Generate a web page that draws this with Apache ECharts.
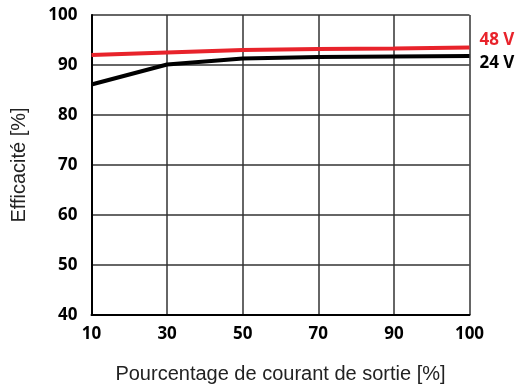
<!DOCTYPE html>
<html>
<head>
<meta charset="utf-8">
<script src="https://cdn.jsdelivr.net/npm/echarts@6/dist/echarts.min.js"></script>
<style>html,body{margin:0;padding:0;background:#fff}#c{width:521px;height:390px}</style>
</head>
<body>
<div id="c"></div>
<script>
// Output current share (%) along the horizontal axis
const loadPercent = ['10', '30', '50', '70', '90', '100'];
// Efficiency (%) for each supply voltage
const eff48V = [92.0, 92.5, 93.0, 93.2, 93.3, 93.5];
const eff24V = [86.1, 90.1, 91.3, 91.6, 91.7, 91.8];

const tickFont = { fontFamily: 'Open Sans', fontWeight: 'bold', fontSize: 17, color: '#000' };
const titleFont = { fontFamily: 'Liberation Sans', fontSize: 20, color: '#222' };

const chart = echarts.init(document.getElementById('c'));
chart.setOption({
  animation: false,
  grid: { left: 91.5, top: 15, right: 51.5, bottom: 75 },
  xAxis: {
    type: 'category',
    data: loadPercent,
    boundaryGap: false,
    name: 'Pourcentage de courant de sortie [%]',
    nameLocation: 'middle',
    nameGap: 49,
    nameTextStyle: titleFont,
    axisLine: { lineStyle: { color: '#000', width: 2 } },
    axisTick: { show: false },
    axisLabel: Object.assign({ margin: 11 }, tickFont),
    splitLine: { show: true, lineStyle: { color: '#333', width: 1.5 } }
  },
  yAxis: {
    type: 'value',
    min: 40, max: 100, interval: 10,
    name: 'Efficacité [%]',
    nameLocation: 'middle',
    nameGap: 62,
    nameTextStyle: titleFont,
    axisLine: { show: true, lineStyle: { color: '#000', width: 2 } },
    axisTick: { show: false },
    axisLabel: Object.assign({ margin: 14 }, tickFont),
    splitLine: { show: true, lineStyle: { color: '#333', width: 1.5 } }
  },
  series: [
    {
      name: '48 V', type: 'line', data: eff48V, symbol: 'none',
      lineStyle: { color: '#e8232b', width: 4 },
      endLabel: { show: true, formatter: '48 V', fontFamily: 'Open Sans', fontWeight: 'bold', fontSize: 17, color: '#e8232b', offset: [2, -7] },
      z: 3
    },
    {
      name: '24 V', type: 'line', data: eff24V, symbol: 'none',
      lineStyle: { color: '#000', width: 4 },
      endLabel: { show: true, formatter: '24 V', fontFamily: 'Open Sans', fontWeight: 'bold', fontSize: 17, color: '#000', offset: [2, 7.5] },
      z: 2
    }
  ]
});
</script>
</body>
</html>
